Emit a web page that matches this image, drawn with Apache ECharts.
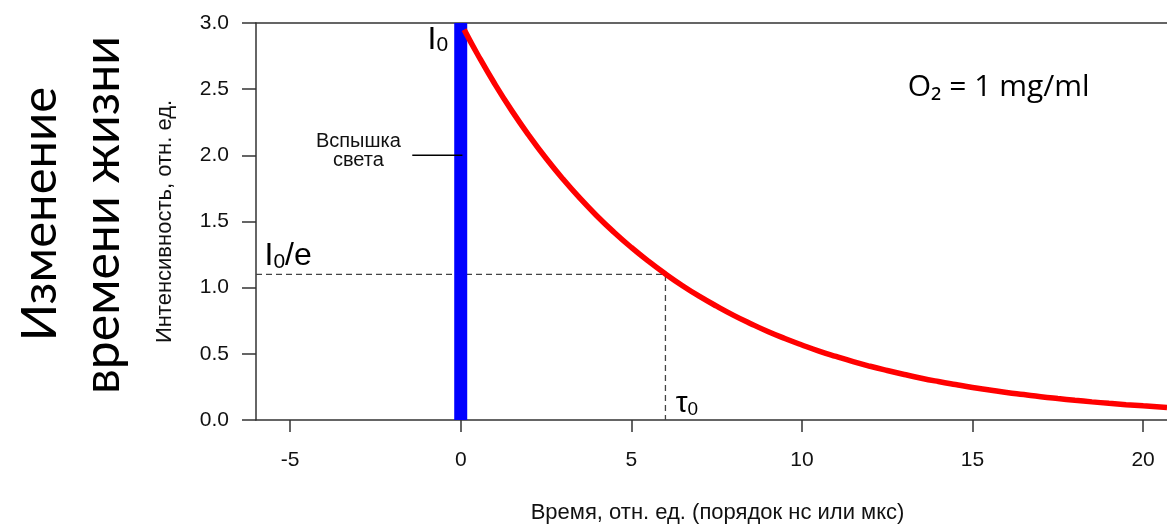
<!DOCTYPE html>
<html><head><meta charset="utf-8">
<script src="https://cdn.jsdelivr.net/npm/echarts@6/dist/echarts.min.js"></script>
<style>html,body{margin:0;padding:0;background:#fff}#c{width:1167px;height:525px}</style>
</head><body><div id="c"></div>
<script>
// Decay curve
const timeValues = [0.1, 0.5, 1, 1.5, 2, 2.5, 3, 3.5, 4, 4.5, 5, 5.5, 6, 6.5, 7, 7.5, 8, 8.5, 9, 9.5, 10, 10.5, 11, 11.5, 12, 12.5, 13, 13.5, 14, 14.5, 15, 15.5, 16, 16.5, 17, 17.5, 18, 18.5, 19, 19.5, 20, 20.7];
const intensityValues = [2.950, 2.760, 2.539, 2.336, 2.150, 1.978, 1.820, 1.674, 1.540, 1.417, 1.304, 1.200, 1.104, 1.015, 0.934, 0.860, 0.791, 0.728, 0.669, 0.616, 0.567, 0.521, 0.480, 0.441, 0.406, 0.374, 0.344, 0.316, 0.291, 0.268, 0.246, 0.227, 0.208, 0.192, 0.176, 0.162, 0.149, 0.137, 0.126, 0.116, 0.107, 0.095];
// Flash (blue bar)
const flashTime = [0, 0];
const flashIntensity = [0, 3];
// I0/e guide lines
const guideTime = [-6, 6, 6];
const guideIntensity = [1.1, 1.1, 0];
// Pointer for "Вспышка света"
const pointerTime = [-1.42, 0.05];
const pointerIntensity = [2, 2];
// Axes
const xMin = -6, xMax = 20.7;
const xTickValues = [-5, 0, 5, 10, 15, 20];
const yMin = 0, yMax = 3, yStep = 0.5;
// Texts
const xTitle = 'Время, отн. ед. (порядок нс или мкс)';
const yTitle = 'Интенсивность, отн. ед.';
const bigTitleLine1 = 'Изменение';
const bigTitleLine2 = 'времени жизни';
const flashLabel = 'Вспышка\nсвета';
const o2Label = 'O₂ = 1 mg/ml';

const zip = (a, b) => a.map((v, i) => [v, b[i]]);
const chart = echarts.init(document.getElementById('c'), null, {renderer: 'canvas'});
const axisColor = '#333';
const tickFont = {fontFamily: '"Liberation Sans", Arial, sans-serif', fontSize: 21, color: '#111'};

chart.setOption({
  animation: false,
  backgroundColor: '#fff',
  grid: {left: 256, right: 0, top: 23, bottom: 105, containLabel: false},
  xAxis: [{
    type: 'value', min: xMin, max: xMax, position: 'bottom',
    axisLine: {show: true, onZero: false, lineStyle: {color: axisColor, width: 1.5}},
    axisTick: {show: true, length: 12, inside: false, customValues: xTickValues, lineStyle: {color: axisColor, width: 1.5}},
    axisLabel: Object.assign({show: true, margin: 30, customValues: xTickValues, formatter: v => String(v)}, tickFont),
    splitLine: {show: false}
  }, {
    type: 'value', min: xMin, max: xMax, position: 'top',
    axisLine: {show: true, onZero: false, lineStyle: {color: axisColor, width: 1.5}},
    axisTick: {show: false}, axisLabel: {show: false}, splitLine: {show: false}
  }],
  yAxis: {
    type: 'value', min: yMin, max: yMax, interval: yStep,
    axisLine: {show: true, onZero: false, lineStyle: {color: axisColor, width: 1.5}},
    axisTick: {show: true, length: 14, inside: false, lineStyle: {color: axisColor, width: 1.5}},
    axisLabel: Object.assign({margin: 27, formatter: v => v.toFixed(1)}, tickFont),
    splitLine: {show: false}
  },
  series: [
    {type: 'line', data: zip(guideTime, guideIntensity), symbol: 'none', z: 2,
     lineStyle: {color: '#444', width: 1.3, type: [6, 4]}},
    {type: 'line', data: zip(flashTime, flashIntensity), symbol: 'none', z: 3,
     lineStyle: {color: '#0000ff', width: 13, cap: 'butt'}},
    {type: 'line', data: zip(pointerTime, pointerIntensity), symbol: 'none', z: 4,
     lineStyle: {color: '#000', width: 1.5, cap: 'butt'}},
    {type: 'line', data: zip(timeValues, intensityValues), symbol: 'none', smooth: true, z: 5,
     lineStyle: {color: '#ff0000', width: 5.5}}
  ]
});

const px = (t, v) => chart.convertToPixel({gridIndex: 0}, [t, v]);
const annFont = '"Liberation Sans", Arial, sans-serif';
const pI0 = px(-0.37, 3.0);
const pI0e = px(-5.75, 1.1);
const pTau = px(6.3, 0);
const pFlash = px(-3.0, 2.0);
const pO2 = px(13.1, 2.51);
const plotMid = px((xMin + xMax) / 2, (yMin + yMax) / 2);

chart.setOption({
  graphic: [
    {type: 'text', x: 40, y: 214, rotation: Math.PI / 2,
     style: {text: bigTitleLine1, font: '49px Lato, "Noto Sans", sans-serif', fill: '#000', align: 'center', verticalAlign: 'middle'}},
    {type: 'text', x: 103, y: 215, rotation: Math.PI / 2,
     style: {text: bigTitleLine2, font: '50px Lato, "Noto Sans", sans-serif', fill: '#000', align: 'center', verticalAlign: 'middle'}},
    {type: 'text', x: 165, y: plotMid[1], rotation: Math.PI / 2,
     style: {text: yTitle, font: '22px ' + annFont, fill: '#111', align: 'center', verticalAlign: 'middle'}},
    {type: 'text', x: plotMid[0] + 6, y: 513,
     style: {text: xTitle, font: '22px ' + annFont, fill: '#111', align: 'center', verticalAlign: 'middle'}},
    {type: 'text', x: pI0[0], y: pI0[1] + 1,
     style: {text: '{a|I}{b|0}', align: 'right', verticalAlign: 'top', fill: '#000',
       rich: {a: {fontSize: 32, fontFamily: annFont, verticalAlign: 'bottom'}, b: {fontSize: 21, fontFamily: annFont, verticalAlign: 'bottom'}}}},
    {type: 'text', x: pI0e[0], y: pI0e[1] - 2,
     style: {text: '{a|I}{b|0}{a|/e}', align: 'left', verticalAlign: 'bottom', fill: '#000',
       rich: {a: {fontSize: 32, fontFamily: annFont, verticalAlign: 'bottom'}, b: {fontSize: 21, fontFamily: annFont, verticalAlign: 'bottom'}}}},
    {type: 'text', x: pTau[0], y: pTau[1] - 1,
     style: {text: '{a|τ}{b|0}', align: 'left', verticalAlign: 'bottom', fill: '#000',
       rich: {a: {fontSize: 30, fontFamily: annFont, verticalAlign: 'bottom'}, b: {fontSize: 19, fontFamily: annFont, verticalAlign: 'bottom'}}}},
    {type: 'text', x: pFlash[0], y: pFlash[1] - 4,
     style: {text: flashLabel, font: '20px ' + annFont, fill: '#111', align: 'center', verticalAlign: 'middle', lineHeight: 19}},
    {type: 'text', x: pO2[0], y: pO2[1],
     style: {text: o2Label, font: '30px "Open Sans", "Noto Sans", sans-serif', fill: '#000', align: 'left', verticalAlign: 'middle'}}
  ]
});
</script>
</body></html>
